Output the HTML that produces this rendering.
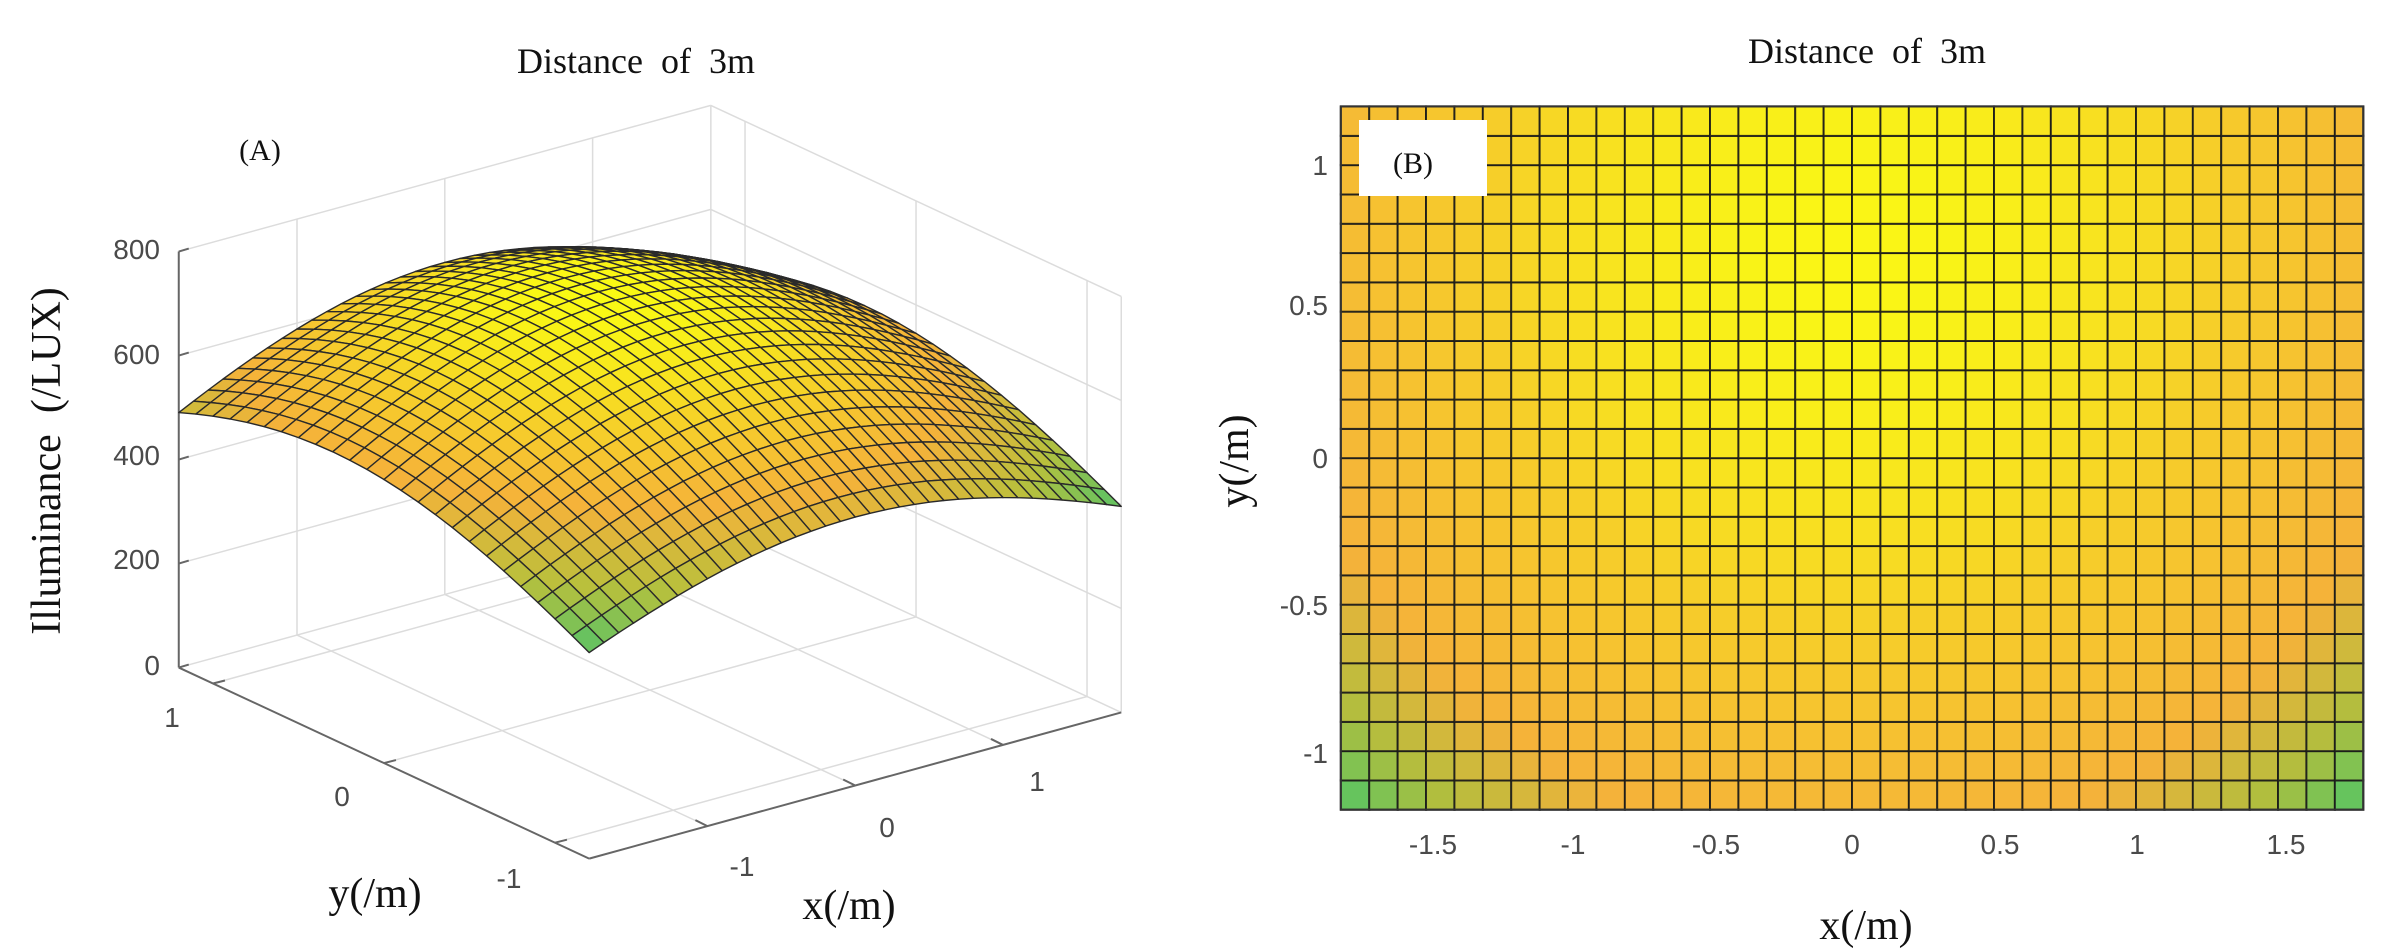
<!DOCTYPE html>
<html><head><meta charset="utf-8"><style>
html,body{margin:0;padding:0;background:#fff;}
svg{display:block;}
.t{font-family:"Liberation Serif",serif;fill:#111;white-space:pre;}
.k{font-family:"Liberation Sans",sans-serif;fill:#4a4a4a;font-size:28px;}
</style></head><body>
<svg id="s" width="2400" height="952" viewBox="0 0 2400 952" xmlns="http://www.w3.org/2000/svg">
<rect width="2400" height="952" fill="#fff"/>
<g id="g3"></g>
<g id="g2"></g>
<text class="t" x="636" y="73" font-size="36" text-anchor="middle">Distance  of  3m</text>
<text class="t" x="1867" y="63" font-size="36" text-anchor="middle">Distance  of  3m</text>
<text class="t" x="260" y="160" font-size="30" text-anchor="middle">(A)</text>
<text class="t" x="0" y="0" font-size="42" text-anchor="middle" transform="translate(60,461) rotate(-90)">Illuminance  (/LUX)</text>
<text class="k" x="160" y="259" text-anchor="end">800</text>
<text class="k" x="160" y="364" text-anchor="end">600</text>
<text class="k" x="160" y="465" text-anchor="end">400</text>
<text class="k" x="160" y="569" text-anchor="end">200</text>
<text class="k" x="160" y="675" text-anchor="end">0</text>
<text class="k" x="172" y="727" text-anchor="middle">1</text>
<text class="k" x="342" y="806" text-anchor="middle">0</text>
<text class="k" x="509" y="888" text-anchor="middle">-1</text>
<text class="k" x="742" y="876" text-anchor="middle">-1</text>
<text class="k" x="887" y="837" text-anchor="middle">0</text>
<text class="k" x="1037" y="791" text-anchor="middle">1</text>
<text class="t" x="375" y="907" font-size="42" text-anchor="middle">y(/m)</text>
<text class="t" x="849" y="919" font-size="42" text-anchor="middle">x(/m)</text>
<text class="t" x="0" y="0" font-size="42" text-anchor="middle" transform="translate(1248,461) rotate(-90)">y(/m)</text>
<text class="t" x="1866" y="939" font-size="42" text-anchor="middle">x(/m)</text>
<g class="k" text-anchor="end">
<text x="1328" y="175">1</text><text x="1328" y="315">0.5</text><text x="1328" y="468">0</text><text x="1328" y="615">-0.5</text><text x="1328" y="763">-1</text>
</g>
<g class="k" text-anchor="middle">
<text x="1433" y="854">-1.5</text><text x="1573" y="854">-1</text><text x="1716" y="854">-0.5</text><text x="1852" y="854">0</text><text x="2000" y="854">0.5</text><text x="2137" y="854">1</text><text x="2286" y="854">1.5</text>
</g>
</svg>
<script>
(function(){
var NS="http://www.w3.org/2000/svg";
function el(p,n,a){var e=document.createElementNS(NS,n);for(var k in a)e.setAttribute(k,a[k]);p.appendChild(e);return e;}
function V(x,y){return 720*Math.exp(-(x/3.5)*(x/3.5)-((y-0.3)/2.6)*((y-0.3)/2.6));}
var st=[[0,[70,195,110]],[0.25,[185,192,60]],[0.5,[245,178,58]],[0.75,[246,210,40]],[1,[250,250,20]]];
var st2=[[0,[75,198,105]],[0.13,[175,190,62]],[0.3,[245,178,58]],[0.65,[246,205,42]],[1,[250,250,20]]];
function colt(t,s){s=s||st;if(t<0)t=0;if(t>1)t=1;
for(var i=1;i<s.length;i++){if(t<=s[i][0]){var a=s[i-1],b=s[i],f=(t-a[0])/(b[0]-a[0]);
return "rgb("+[0,1,2].map(function(j){return Math.round(a[1][j]+(b[1][j]-a[1][j])*f);}).join(",")+")";}}return "rgb(250,250,20)";}
function col(v){return colt((v-385)/335);}
function G(x,y){return Math.exp(-(x/3)*(x/3)-((y-0.7)/3.0)*((y-0.7)/3.0));}
var gmin=G(1.8,-1.2);
function col2(x,y){return colt((G(x,y)-gmin)/(1-gmin)*0.97+0.0,st2);}
var g2=document.getElementById("g2");
function X2(x){return 1852+284*x;} function Y2(y){return 458-293*y;}
for(var i=0;i<36;i++)for(var j=0;j<24;j++){var x=-1.8+i*0.1,y=-1.2+j*0.1;
el(g2,"rect",{x:X2(x),y:Y2(y+0.1),width:28.6,height:29.5,fill:col2(x+0.05,y+0.05),stroke:"#1a1a1a","stroke-width":"2","stroke-opacity":"0.9"});}
el(g2,"rect",{x:X2(-1.8),y:Y2(1.2),width:284*3.6,height:293*2.4,fill:"none",stroke:"#333","stroke-width":"2"});
el(g2,"rect",{x:1359,y:120,width:128,height:76,fill:"#fff"});
var tb=el(g2,"text",{x:1413,y:173,"font-size":"30","text-anchor":"middle","class":"t"});tb.textContent="(B)";
var g3=document.getElementById("g3");
function P(x,y,z){return [650+147.8*x-171*y, 690-40.6*x-79.6*y-0.52*z];}
function L(a,b,c,w){el(g3,"line",{x1:a[0],y1:a[1],x2:b[0],y2:b[1],stroke:c,"stroke-width":w});}
var gc="#dcdcdc";
for(var z=0;z<=800;z+=200){L(P(-1.8,1.2,z),P(1.8,1.2,z),gc,1.5);L(P(1.8,1.2,z),P(1.8,-1.2,z),gc,1.5);}
[-1,0,1].forEach(function(x){L(P(x,1.2,0),P(x,1.2,800),gc,1.5);L(P(x,-1.2,0),P(x,1.2,0),gc,1.5);});
[-1,0,1].forEach(function(y){L(P(1.8,y,0),P(1.8,y,800),gc,1.5);L(P(-1.8,y,0),P(1.8,y,0),gc,1.5);});
L(P(1.8,1.2,0),P(1.8,1.2,800),gc,1.5);L(P(1.8,-1.2,0),P(1.8,-1.2,800),gc,1.5);
L(P(-1.8,1.2,0),P(-1.8,1.2,800),"#666",2);
L(P(-1.8,1.2,0),P(-1.8,-1.2,0),"#666",2);
L(P(-1.8,-1.2,0),P(1.8,-1.2,0),"#666",2);
for(var z=0;z<=800;z+=200){var a=P(-1.8,1.2,z);L(a,[a[0]+10,a[1]-3],"#666",2);}
[-1,0,1].forEach(function(y){var a=P(-1.8,y,0);L(a,[a[0]+12,a[1]-3],"#666",2);});
[-1,0,1].forEach(function(x){var a=P(x,-1.2,0);L(a,[a[0]-12,a[1]-6],"#666",2);});
var q=[];
for(var i=0;i<36;i++)for(var j=0;j<24;j++){var x=-1.8+i*0.1,y=-1.2+j*0.1;q.push([x,y,x/1.8+y/1.2]);}
q.sort(function(a,b){return b[2]-a[2];});
q.forEach(function(c){var x=c[0],y=c[1];
var p=[P(x,y,V(x,y)),P(x+0.1,y,V(x+0.1,y)),P(x+0.1,y+0.1,V(x+0.1,y+0.1)),P(x,y+0.1,V(x,y+0.1))];
el(g3,"polygon",{points:p.map(function(v){return v[0].toFixed(1)+","+v[1].toFixed(1);}).join(" "),fill:col(V(x+0.05,y+0.05)),stroke:"#2a2a2a","stroke-width":"1.4","stroke-linejoin":"round"});});
})();
</script>
</body></html>
